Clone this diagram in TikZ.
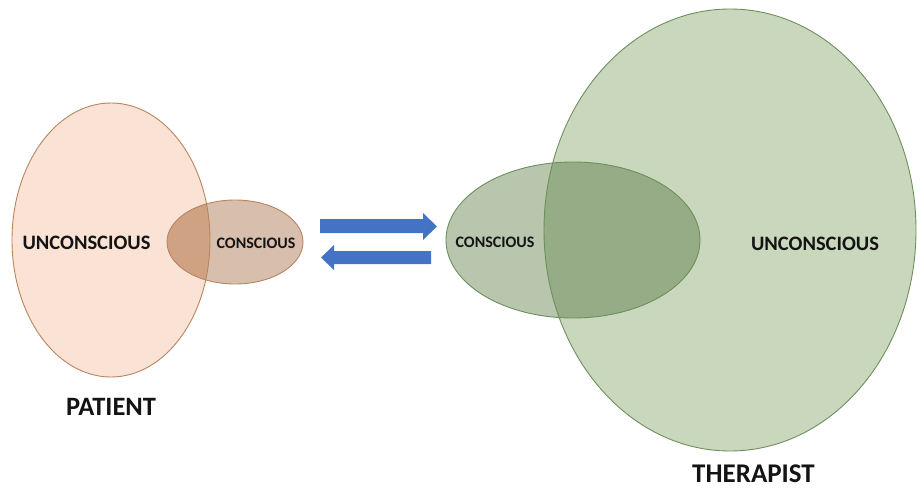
\documentclass[tikz,border=0pt]{standalone}
\usepackage{fontspec}
\setmainfont{Carlito}
\definecolor{peach}{HTML}{FAE3D5}
\definecolor{tan}{HTML}{D7BEAD}
\definecolor{tanover}{HTML}{CFA283}
\definecolor{brownline}{HTML}{B98560}
\definecolor{lgreen}{HTML}{C9D8BD}
\definecolor{ggreen}{HTML}{B7C6AD}
\definecolor{dgreen}{HTML}{95AC87}
\definecolor{greenline}{HTML}{6E8F5C}
\definecolor{arrowblue}{HTML}{4472C4}
\tikzset{
  lbl/.style={font=\bfseries, text=black!92, inner sep=0pt},
  pline/.style={draw=brownline, line width=0.9pt},
  gline/.style={draw=greenline, line width=0.9pt},
  blk/.style={fill=arrowblue, draw=none}
}
\begin{document}
\begin{tikzpicture}[x=1pt,y=-1pt]
\useasboundingbox (0,0) rectangle (917,489);
% centres
\coordinate (pu) at (111,240);
\coordinate (pc) at (235,242);
\coordinate (tc) at (573,240);
\coordinate (tu) at (730,230);
% patient
\fill[peach] (pu) ellipse [x radius=99, y radius=137];
\fill[tan] (pc) ellipse [x radius=68, y radius=42];
\begin{scope}
  \clip (pu) ellipse [x radius=99, y radius=137];
  \fill[tanover] (pc) ellipse [x radius=68, y radius=42];
\end{scope}
\path[pline] (pu) ellipse [x radius=99, y radius=137];
\path[pline] (pc) ellipse [x radius=68, y radius=42];
% therapist
\fill[lgreen] (tu) ellipse [x radius=186, y radius=221];
\fill[ggreen] (tc) ellipse [x radius=127, y radius=78];
\begin{scope}
  \clip (tu) ellipse [x radius=186, y radius=221];
  \fill[dgreen] (tc) ellipse [x radius=127, y radius=78];
\end{scope}
\path[gline] (tu) ellipse [x radius=186, y radius=221];
\path[gline] (tc) ellipse [x radius=127, y radius=78];
% arrows
\fill[blk] (320,219) coordinate (r1) -- (423,219) -- (423,213) -- (437,226.5) coordinate (rt) -- (423,240) -- (423,233) -- (320,233) -- cycle;
\fill[blk] (431,251) coordinate (l1) -- (334,251) -- (334,245) -- (321,257.5) coordinate (lt) -- (334,270) -- (334,264) -- (431,264) -- cycle;
% labels
\node[lbl, font=\bfseries\fontsize{20.5}{24}\selectfont] (pun) at (86.5,243) {UNCONSCIOUS};
\node[lbl, font=\bfseries\fontsize{16}{19}\selectfont] (pcon) at (256,243) {CONSCIOUS};
\node[lbl, font=\bfseries\fontsize{16}{19}\selectfont] (tcon) at (495,242) {CONSCIOUS};
\node[lbl, font=\bfseries\fontsize{20.5}{24}\selectfont] (tun) at (815,244) {UNCONSCIOUS};
\node[lbl, font=\bfseries\fontsize{26.5}{30}\selectfont] (pat) at (111,407) {PATIENT};
\node[lbl, font=\bfseries\fontsize{27}{30}\selectfont] (ther) at (753.5,474) {THERAPIST};
\end{tikzpicture}
\end{document}
